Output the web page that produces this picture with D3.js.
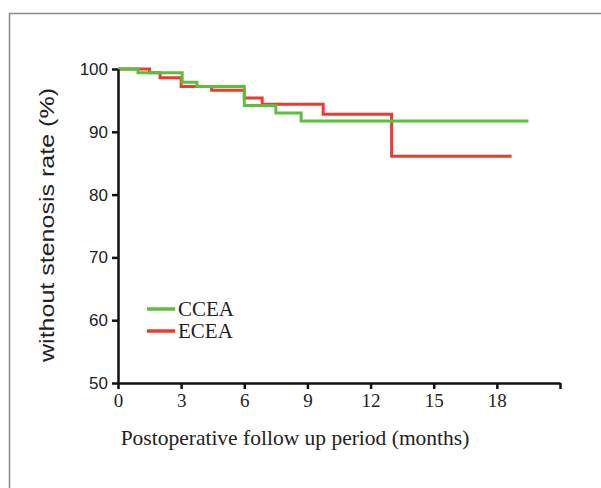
<!DOCTYPE html>
<html><head><meta charset="utf-8">
<script src="https://cdn.jsdelivr.net/npm/d3@7"></script>
<style>body{margin:0;background:#fff}svg{display:block}</style>
</head><body>
<svg id="c" width="601" height="488"></svg>
<script>
const seriesNames = ["CCEA", "ECEA"];
const ccTimes = [0, 0.95, 3.05, 3.75, 6.0, 7.5, 8.7, 19.5];
const ccVals  = [100, 99.4, 97.9, 97.2, 94.2, 93.0, 91.7, 91.7];
const ecTimes = [0, 1.5, 2.0, 3.0, 4.45, 6.0, 6.85, 9.75, 13.0, 18.7];
const ecVals  = [100, 99.4, 98.6, 97.2, 96.6, 95.4, 94.4, 92.8, 86.1, 86.1];
const xTicks = [0, 3, 6, 9, 12, 15, 18, 21];
const yTicks = [50, 60, 70, 80, 90, 100];
const colors = ["#5cbf3c", "#f2392f"];

const svg = d3.select("#c");
svg.append("rect").attr("x", 9.5).attr("y", 13.5).attr("width", 640).attr("height", 520)
  .attr("fill", "none").attr("stroke", "#8a8a8a").attr("stroke-width", 1.5);

const x = d3.scaleLinear().domain([0, 21]).range([118, 560]);
const y = d3.scaleLinear().domain([50, 100]).range([383, 69]);

const line = d3.line().curve(d3.curveStepAfter).x(d => x(d[0])).y(d => y(d[1]));
const ec = ecTimes.map((t, i) => [t, ecVals[i]]);
const cc = ccTimes.map((t, i) => [t, ccVals[i]]);
svg.append("path").attr("d", line(ec)).attr("fill", "none").attr("stroke", colors[1]).attr("stroke-width", 3);
svg.append("path").attr("d", line(cc)).attr("fill", "none").attr("stroke", colors[0]).attr("stroke-width", 3);

const xa = svg.append("g").attr("transform", "translate(0,383)")
  .call(d3.axisBottom(x).tickValues(xTicks).tickFormat(d => d === 21 ? "" : d).tickSize(6).tickSizeOuter(0));
const ya = svg.append("g").attr("transform", "translate(118,0)")
  .call(d3.axisLeft(y).tickValues(yTicks).tickSize(6).tickSizeOuter(0));
[xa, ya].forEach(g => {
  g.select(".domain").attr("stroke", "#111").attr("stroke-width", 2.5);
  g.selectAll(".tick line").attr("stroke", "#111").attr("stroke-width", 2.5);
});
xa.selectAll(".tick text").attr("font-family", "Liberation Serif").attr("font-size", 19).attr("fill", "#222").attr("dy", "0.8em");
ya.selectAll(".tick text").attr("font-family", "Liberation Sans").attr("font-size", 17).attr("fill", "#222").attr("dx", "-1px");

svg.append("text").attr("x", 295).attr("y", 445).attr("text-anchor", "middle")
  .attr("font-family", "Liberation Serif").attr("font-size", 21.5).attr("fill", "#222")
  .text("Postoperative follow up period (months)");
svg.append("text").attr("transform", "translate(54,225) rotate(-90)").attr("text-anchor", "middle")
  .attr("font-family", "Liberation Sans").attr("font-size", 20).attr("fill", "#222")
  .attr("textLength", 274).attr("lengthAdjust", "spacingAndGlyphs")
  .text("without stenosis rate (%)");

const leg = svg.append("g");
seriesNames.forEach((n, i) => {
  const yy = 309 + i * 22;
  leg.append("line").attr("x1", 147).attr("x2", 175).attr("y1", yy).attr("y2", yy)
    .attr("stroke", colors[i]).attr("stroke-width", 3.5);
  leg.append("text").attr("x", 178).attr("y", yy + 7).attr("font-family", "Liberation Serif")
    .attr("font-size", 21).attr("fill", "#222").text(n);
});
</script>
</body></html>
